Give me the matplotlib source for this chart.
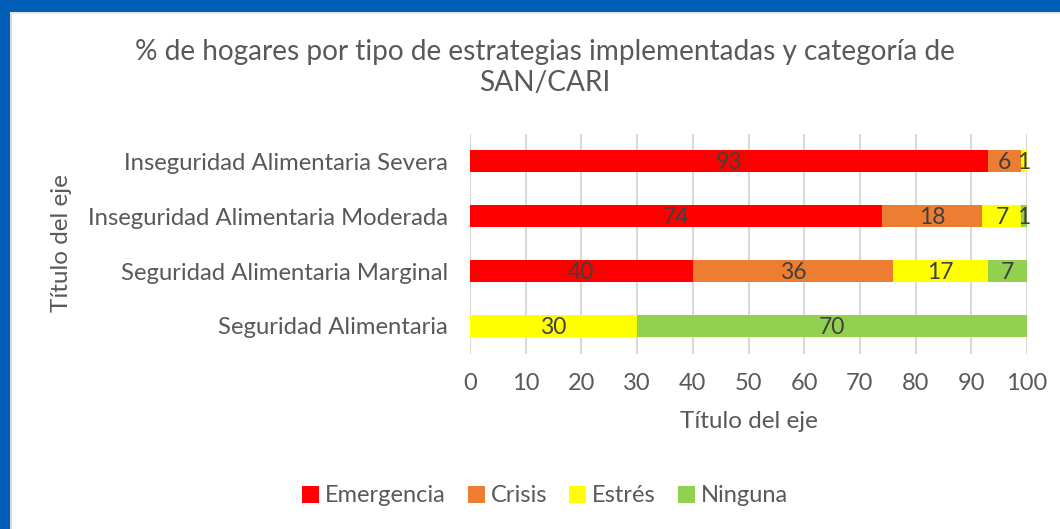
import matplotlib
matplotlib.use("Agg")
import matplotlib.pyplot as plt
from matplotlib.patches import Rectangle

categories = ["Seguridad Alimentaria", "Seguridad Alimentaria Marginal",
              "Inseguridad Alimentaria Moderada", "Inseguridad Alimentaria Severa"]
series_names = ["Emergencia", "Crisis", "Estrés", "Ninguna"]
emergencia = [0, 40, 74, 93]
crisis = [0, 36, 18, 6]
estres = [30, 17, 7, 1]
ninguna = [70, 7, 1, 0]
colors = ["#FF0000", "#ED7D31", "#FFFF00", "#92D050"]
xticks = [0, 10, 20, 30, 40, 50, 60, 70, 80, 90, 100]

plt.rcParams['font.family'] = ['Lato', 'DejaVu Sans']
txt = "#595959"
lbl = "#404040"

W, H = 1060, 529
fig = plt.figure(figsize=(W / 100, H / 100), dpi=100)
fig.patch.set_facecolor("white")

# frame
fig.patches.append(Rectangle((0, 1 - 12 / H), 1, 12 / H, transform=fig.transFigure,
                             facecolor="#005EB8", edgecolor="none", zorder=0))
fig.patches.append(Rectangle((0, 0), 10 / W, 1, transform=fig.transFigure,
                             facecolor="#005EB8", edgecolor="none", zorder=0))
fig.patches.append(Rectangle((10 / W, 0), 1.5 / W, 1 - 12 / H, transform=fig.transFigure,
                             facecolor="#D9D9D9", edgecolor="none", zorder=0))
fig.patches.append(Rectangle((10 / W, 1 - 14 / H), 1 - 10 / W, 2 / H, transform=fig.transFigure,
                             facecolor="#E6E6E6", edgecolor="none", zorder=0))

left, right = 470, 1027
top, bottom = 133.5, 353.5
ax = fig.add_axes([left / W, 1 - bottom / H, (right - left) / W, (bottom - top) / H])

data = [emergencia, crisis, estres, ninguna]
y = list(range(len(categories)))
base = [0] * len(categories)
for name, vals, c in zip(series_names, data, colors):
    ax.barh(y, vals, left=base, height=0.4, color=c, label=name, zorder=3)
    for yi, v, b in zip(y, vals, base):
        if v > 0:
            ax.text(b + v / 2, yi - 0.02, str(v), ha="center", va="center",
                    fontsize=16.5, color=lbl, zorder=4)
    base = [b + v for b, v in zip(base, vals)]

ax.set_xlim(0, 100)
ax.set_ylim(-0.5, len(categories) - 0.5)
ax.set_xticks(xticks)
ax.set_yticks(y)
ax.set_yticklabels(categories)
ax.tick_params(axis="x", length=0, labelsize=17, colors=txt, pad=14)
ax.tick_params(axis="y", length=0, labelsize=17.2, colors=txt, pad=16)
for s in ax.spines.values():
    s.set_visible(False)
ax.grid(axis="x", color="#D9D9D9", linewidth=1.5, zorder=0)
ax.set_axisbelow(True)

ax.set_xlabel("Título del eje", fontsize=17.5, color=txt, labelpad=12)
ax.yaxis.set_label_coords((62 - left) / (right - left), 0.5)
ax.set_ylabel("Título del eje", fontsize=17.5, color=txt, va="center")

fig.text(545 / W, 1 - 67.5 / H,
         "% de hogares por tipo de estrategias implementadas y categoría de\nSAN/CARI",
         ha="center", va="center", fontsize=20.2, color=txt, linespacing=1.25)

leg = fig.legend(loc="center", bbox_to_anchor=(545 / W, 1 - 496 / H), ncol=4,
                 frameon=False, fontsize=17, handlelength=0.7, handleheight=0.7,
                 handletextpad=0.25, columnspacing=0.95)
for t in leg.get_texts():
    t.set_color(txt)

fig.savefig("out.png", dpi=100, facecolor="white")
